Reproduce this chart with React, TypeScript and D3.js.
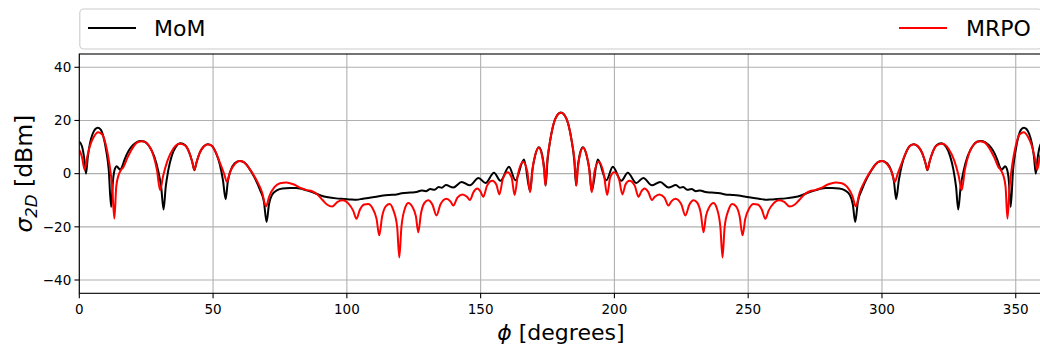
import React from "react";
import * as d3 from "d3";

const xTicks = [0, 50, 100, 150, 200, 250, 300, 350];
const yTicks = [-40, -20, 0, 20, 40];
const seriesNames = ["MoM", "MRPO"];

// MoM (black) [phi deg, dBm]
const momData: [number, number][] = [
  [0, 12.0],[1, 10.3],[1.8, 6.0],[2.5, 0.0],[3.2, 6.5],[4, 11.5],[5, 15.0],[6, 16.8],[6.9, 17.3],[8, 16.6],[9, 14.0],[10, 9.0],[11, 1.5],[11.9, -12.5],[12.6, -2.5],[13.3, 1.8],[14, 2.8],[14.7, 2.0],[15.3, 1.5],[16, 2.6],[17, 5.5],[18.5, 8.7],[20, 10.7],[21.5, 11.9],[23, 12.3],[24.5, 12.0],[26, 10.5],[28, 6.5],[29.5, 1.0],[30.6, -5.0],[31.5, -13.5],[32.3, -5.0],[33.3, 1.5],[34.5, 6.5],[36, 10.0],[37.9, 11.4],[39.5, 10.8],[41, 8.2],[42.2, 4.5],[43, 1.3],[43.8, 4.2],[45, 7.8],[46.5, 10.2],[48, 11.1],[49.5, 10.5],[51, 8.0],[52.5, 3.5],[53.7, -2.5],[54.7, -9.6],[55.5, -3.0],[56.5, 1.0],[58, 3.8],[59.9, 4.8],[61.5, 4.3],[63.5, 2.0],[65.5, -1.5],[67.5, -6.0],[69, -10.5],[70, -18.2],[70.9, -11.5],[72, -8.0],[74, -6.2],[76, -5.6],[78.7, -5.4],[81, -5.4],[83, -5.7],[85, -6.3],[88, -7.3],[90, -8.1],[93, -8.9],[96, -9.3],[99, -9.5],[101.5, -9.7],[103.6, -9.8],[106, -9.4],[108.5, -9.1],[111, -8.7],[113.6, -8.2],[116, -8.0],[118, -7.9],[120.5, -7.4],[123.6, -7.1],[126, -6.9],[128, -6.3],[129.5, -6.6],[131.2, -5.8],[132.8, -6.1],[134.3, -5.0],[135.5, -5.3],[137, -4.3],[139.8, -5.2],[142.9, -3.1],[146, -4.4],[149.2, -1.6],[151.8, -3.5],[155, 0.3],[157.4, -2.7],[160.6, 2.6],[163, -2.5],[166.2, 5.3],[168.5, -6.5],[169.3, 1.0],[170.3, 6.5],[171.8, 9.9],[173, 7.0],[173.8, 1.5],[174.3, -4.5],[175, 5.0],[176, 12.5],[177.2, 18.5],[178.5, 21.8],[180, 23.0],
  [181.5, 21.8],[182.8, 18.5],[184, 12.5],[185, 5.0],[185.7, -4.5],[186.2, 1.5],[187, 7.0],[188.2, 9.9],[189.7, 6.5],[190.7, 1.0],[191.5, -6.5],[193.8, 5.3],[197, -2.5],[199.4, 2.6],[202.6, -2.7],[205, 0.3],[208.2, -3.5],[210.8, -1.6],[214, -4.4],[217.1, -3.1],[220.2, -5.2],[223, -4.3],[224.5, -5.3],[225.7, -5.0],[227.2, -6.1],[228.8, -5.8],[230.5, -6.6],[232, -6.3],[234, -6.9],[236.4, -7.1],[239.5, -7.4],[242, -7.9],[244, -8.0],[246.4, -8.2],[249, -8.7],[251.5, -9.1],[254, -9.4],[256.4, -9.8],[258.5, -9.7],[261, -9.5],[264, -9.3],[267, -8.9],[270, -8.1],[272, -7.3],[275, -6.3],[277, -5.7],[279, -5.4],[281.3, -5.4],[284, -5.6],[286, -6.2],[288, -8.0],[289.1, -11.5],[290, -18.2],[291, -10.5],[292.5, -6.0],[294.5, -1.5],[296.5, 2.0],[298.5, 4.3],[300.1, 4.8],[302, 3.8],[303.5, 1.0],[304.5, -3.0],[305.3, -9.6],[306.3, -2.5],[307.5, 3.5],[309, 8.0],[310.5, 10.5],[312, 11.1],[313.5, 10.2],[315, 7.8],[316.2, 4.2],[317, 1.3],[317.8, 4.5],[319, 8.2],[320.5, 10.8],[322.1, 11.4],[324, 10.0],[325.5, 6.5],[326.7, 1.5],[327.7, -5.0],[328.5, -13.5],[329.4, -5.0],[330.5, 1.0],[332, 6.5],[334, 10.5],[335.5, 12.0],[337, 12.3],[338.5, 11.9],[340, 10.7],[341.5, 8.7],[343, 5.5],[344, 2.6],[344.7, 1.5],[345.3, 2.0],[346, 2.8],[346.7, 1.8],[347.4, -2.5],[348.1, -12.5],[349, 1.5],[350, 9.0],[351, 14.0],[352, 16.6],[353.1, 17.3],[354, 16.8],[355, 15.0],[356, 11.5],[356.8, 6.5],[357.5, 0.0],[358.2, 6.0],[359, 10.3],[360, 12.0],
];

// MRPO (red) [phi deg, dBm]
const mrpoData: [number, number][] = [
  [0, 8.9],[1, 6.3],[2.0, 1.5],[2.9, 6.0],[4, 10.5],[5.5, 14.0],[7, 15.6],[8.5, 14.8],[10, 10.5],[11.2, 4.0],[12.3, -5.0],[13.1, -16.9],[13.8, -5.0],[14.7, -0.5],[15.5, 1.2],[16.5, 2.5],[18, 6.0],[20, 9.8],[21.8, 11.8],[23.6, 12.2],[25.5, 11.2],[27.5, 7.5],[29, 1.5],[30.2, -6.2],[31.3, -1.0],[33, 5.0],[35, 9.2],[37.5, 11.2],[39.5, 10.6],[41, 8.2],[42.2, 4.5],[43, 1.5],[43.8, 4.2],[45, 7.8],[46.5, 10.2],[48, 11.1],[49.5, 10.5],[51, 8.0],[52.8, 3.5],[54.1, 0.0],[55.2, -3.1],[56.3, 0.5],[58, 3.5],[59.9, 4.8],[61.5, 4.3],[63.5, 2.0],[66, -2.0],[68.3, -7.0],[69.8, -12.3],[71, -8.5],[73, -5.0],[75, -3.6],[77.4, -3.3],[80, -4.0],[83, -5.5],[85, -6.2],[87, -6.6],[89, -7.8],[91, -10.0],[92.7, -11.7],[94.5, -12.4],[96.5, -10.6],[98.6, -10.0],[100.6, -11.3],[102.4, -14.0],[103.6, -17.0],[104.9, -13.5],[106.5, -11.6],[108, -11.4],[109.6, -13.0],[111.1, -17.0],[112.1, -23.2],[113.2, -16.0],[114.6, -12.2],[116, -11.4],[117.4, -13.8],[118.8, -20.0],[119.6, -31.5],[120.4, -20.0],[121.8, -12.8],[123, -11.0],[124.5, -12.5],[125.8, -16.0],[126.7, -22.0],[127.7, -15.0],[129, -11.0],[130.4, -10.0],[132, -11.7],[133.5, -15.7],[135, -11.5],[137.2, -9.4],[138.7, -10.4],[139.8, -12.0],[141.3, -9.0],[143.2, -7.8],[144.9, -8.7],[146, -9.9],[147.3, -7.0],[148.8, -5.6],[150, -6.8],[151, -8.7],[152.4, -4.5],[154.4, -2.7],[155.9, -4.2],[157, -7.8],[158.3, -2.0],[160.1, 0.5],[161.6, -1.5],[162.7, -8.0],[163.9, -0.5],[165.8, 4.5],[167.4, 1.0],[168.5, -7.0],[169.5, 2.5],[170.4, 7.0],[171.7, 9.7],[172.9, 7.0],[173.7, 1.5],[174.2, -4.5],[174.9, 5.0],[176, 12.5],[177.2, 18.5],[178.5, 21.8],[180, 22.9],
  [181.5, 21.8],[182.8, 18.5],[184, 12.5],[185.1, 5.0],[185.8, -4.5],[186.3, 1.5],[187.1, 7.0],[188.3, 9.7],[189.6, 7.0],[190.5, 2.5],[191.5, -7.0],[192.6, 1.0],[194.2, 4.5],[196.1, -0.5],[197.3, -8.0],[198.4, -1.5],[199.9, 0.5],[201.7, -2.0],[203, -7.8],[204.1, -4.2],[205.6, -2.7],[207.6, -4.5],[209, -8.7],[210, -6.8],[211.2, -5.6],[212.7, -7.0],[214, -9.9],[215.1, -8.7],[216.8, -7.8],[218.7, -9.0],[220.2, -12.0],[221.3, -10.4],[222.8, -9.4],[225, -11.5],[226.5, -15.7],[228, -11.7],[229.6, -10.0],[231, -11.0],[232.3, -15.0],[233.3, -22.0],[234.2, -16.0],[235.5, -12.5],[237, -11.0],[238.2, -12.8],[239.6, -20.0],[240.4, -31.5],[241.2, -20.0],[242.6, -13.8],[244, -11.4],[245.4, -12.2],[246.8, -16.0],[247.9, -23.2],[248.9, -17.0],[250.4, -13.0],[252, -11.4],[253.5, -11.6],[255.1, -13.5],[256.4, -17.0],[257.6, -14.0],[259.4, -11.3],[261.4, -10.0],[263.5, -10.6],[265.5, -12.4],[267.3, -11.7],[269, -10.0],[271, -7.8],[273, -6.6],[275, -6.2],[277, -5.5],[280, -4.0],[282.6, -3.3],[285, -3.6],[287, -5.0],[289, -8.5],[290.2, -12.3],[291.7, -7.0],[294, -2.0],[296.5, 2.0],[298.5, 4.3],[300.1, 4.8],[302, 3.5],[303.7, 0.5],[304.8, -3.1],[305.9, 0.0],[307.2, 3.5],[309, 8.0],[310.5, 10.5],[312, 11.1],[313.5, 10.2],[315, 7.8],[316.2, 4.2],[317, 1.5],[317.8, 4.5],[319, 8.2],[320.5, 10.6],[322.5, 11.2],[325, 9.2],[327, 5.0],[328.7, -1.0],[329.8, -6.2],[331, 1.5],[332.5, 7.5],[334.5, 11.2],[336.4, 12.2],[338.2, 11.8],[340, 9.8],[342, 6.0],[343.5, 2.5],[344.5, 1.2],[345.3, -0.5],[346.2, -5.0],[346.9, -16.9],[347.7, -5.0],[348.8, 4.0],[350, 10.5],[351.5, 14.8],[353, 15.6],[354.5, 14.0],[356, 10.5],[357.1, 6.0],[358, 1.5],[359, 6.3],[360, 8.9],
];

const W = 1040;
const H = 353;
const L = 79.3;
const R = 1042.5;
const T = 54;
const B = 293.3;

export default function App() {
  const x = d3.scaleLinear().domain([0, 360]).range([L, R]);
  const y = d3.scaleLinear().domain([-45, 45]).range([B, T]);
  const line = d3
    .line<[number, number]>()
    .x((d) => x(d[0]))
    .y((d) => y(d[1]))
    .curve(d3.curveMonotoneX);
  const font = "'DejaVu Sans', sans-serif";
  const gridColor = "#b0b0b0";
  return (
    <svg
      width={W}
      height={H}
      style={{ position: "fixed", left: 0, top: 0, background: "#fff" }}
      fontFamily={font}
    >
      <defs>
        <clipPath id="plotclip">
          <rect x={L} y={T} width={R - L} height={B - T} />
        </clipPath>
      </defs>
      <rect x={0} y={0} width={W} height={H} fill="#fff" />
      {xTicks.map((t) => (
        <line key={"gx" + t} x1={x(t)} x2={x(t)} y1={T} y2={B} stroke={gridColor} strokeWidth={1.1} />
      ))}
      {yTicks.map((t) => (
        <line key={"gy" + t} x1={L} x2={R} y1={y(t)} y2={y(t)} stroke={gridColor} strokeWidth={1.1} />
      ))}
      <g clipPath="url(#plotclip)">
        <path d={line(momData) || ""} fill="none" stroke="#000000" strokeWidth={2} strokeLinejoin="round" />
        <path d={line(mrpoData) || ""} fill="none" stroke="#ff0000" strokeWidth={2} strokeLinejoin="round" />
      </g>
      <rect x={L} y={T} width={R - L} height={B - T} fill="none" stroke="#000" strokeWidth={1.1} />
      {xTicks.map((t) => (
        <g key={"tx" + t}>
          <line x1={x(t)} x2={x(t)} y1={B} y2={B + 4.9} stroke="#000" strokeWidth={1.1} />
          <text x={x(t)} y={B + 21} textAnchor="middle" fontSize={13.5} fill="#000">
            {t}
          </text>
        </g>
      ))}
      {yTicks.map((t) => (
        <g key={"ty" + t}>
          <line x1={L - 4.9} x2={L} y1={y(t)} y2={y(t)} stroke="#000" strokeWidth={1.1} />
          <text x={L - 8} y={y(t)} dy="0.35em" textAnchor="end" fontSize={13.5} fill="#000">
            {t < 0 ? "\u2212" + Math.abs(t) : t}
          </text>
        </g>
      ))}
      <text x={(L + R) / 2} y={340} textAnchor="middle" fontSize={22} fill="#000">
        <tspan fontStyle="italic">ϕ</tspan>
        <tspan> [degrees]</tspan>
      </text>
      <text
        transform={`translate(32,${(T + B) / 2}) rotate(-90)`}
        textAnchor="middle"
        fontSize={23.5}
        fill="#000"
      >
        <tspan fontStyle="italic">σ</tspan>
        <tspan fontStyle="italic" fontSize={16.5} dy={5}>2D</tspan>
        <tspan dy={-5}> [dBm]</tspan>
      </text>
      <rect x={L + 0.5} y={9} width={R - L - 1} height={40} rx={4} ry={4} fill="#fff" fillOpacity={0.8} stroke="#cccccc" strokeWidth={1.1} />
      <line x1={88} x2={136} y1={28} y2={28} stroke="#000" strokeWidth={2} />
      <text x={154} y={28} dy="0.36em" fontSize={22} fill="#000">{seriesNames[0]}</text>
      <line x1={899} x2={947} y1={28} y2={28} stroke="#ff0000" strokeWidth={2} />
      <text x={966} y={28} dy="0.36em" fontSize={22} fill="#000">{seriesNames[1]}</text>
    </svg>
  );
}
